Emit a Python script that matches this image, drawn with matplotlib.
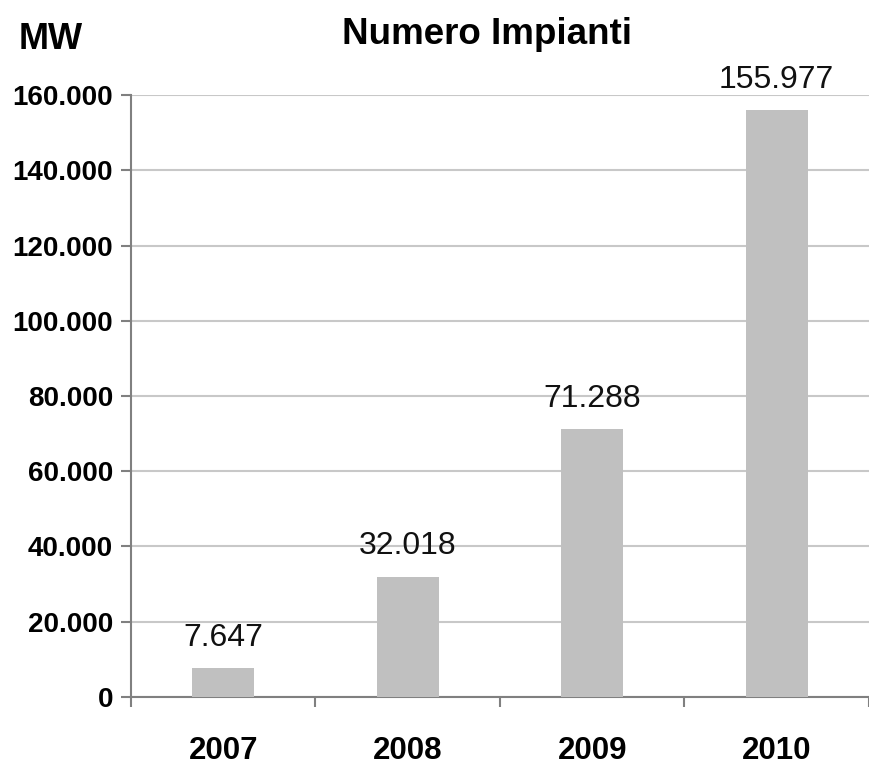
import matplotlib.pyplot as plt
from matplotlib.ticker import FuncFormatter

years = ["2007", "2008", "2009", "2010"]
values = [7647, 32018, 71288, 155977]
value_labels = ["7.647", "32.018", "71.288", "155.977"]
y_ticks = [0, 20000, 40000, 60000, 80000, 100000, 120000, 140000, 160000]

plt.rcParams["font.family"] = ["Liberation Sans", "DejaVu Sans"]

fig = plt.figure(figsize=(8.69, 7.65), dpi=100)
ax = fig.add_axes([0.1507, 0.0889, 0.8493, 0.7869])

x = list(range(len(years)))
bars = ax.bar(x, values, width=0.336, color="#c0c0c0", zorder=3)

ax.set_xlim(-0.5, len(years) - 0.5)
ax.set_ylim(0, 160000)
ax.set_yticks(y_ticks)
ax.yaxis.set_major_formatter(FuncFormatter(lambda v, p: "0" if v == 0 else f"{int(v):,}".replace(",", ".")))
ax.grid(axis="y", color="#c8c8c8", linewidth=1.5, zorder=0)
ax.set_axisbelow(True)

for s in ["top", "right"]:
    ax.spines[s].set_visible(False)
for s in ["left", "bottom"]:
    ax.spines[s].set_color("#808080")
    ax.spines[s].set_linewidth(1.5)

ax.tick_params(axis="y", length=7, width=1.5, color="#808080", labelsize=20, pad=6)
for t in ax.get_yticklabels():
    t.set_fontweight("bold")

# category separators on x axis
ax.set_xticks([i - 0.5 for i in range(len(years) + 1)], minor=True)
ax.set_xticks(x)
ax.set_xticklabels(years, fontsize=22.5, fontweight="bold")
ax.tick_params(axis="x", which="major", length=0, pad=28)
ax.tick_params(axis="x", which="minor", length=7, width=1.5, color="#808080")

for b, lab in zip(bars, value_labels):
    ax.text(b.get_x() + b.get_width() / 2, b.get_height() + 4000, lab,
            ha="center", va="bottom", fontsize=23, color="#111111")

fig.text(0.5605, 0.955, "Numero Impianti", ha="center", va="center",
         fontsize=26.5, fontweight="bold")
fig.text(0.022, 0.948, "MW", ha="left", va="center", fontsize=26, fontweight="bold")

fig.savefig("out.png", dpi=100)
